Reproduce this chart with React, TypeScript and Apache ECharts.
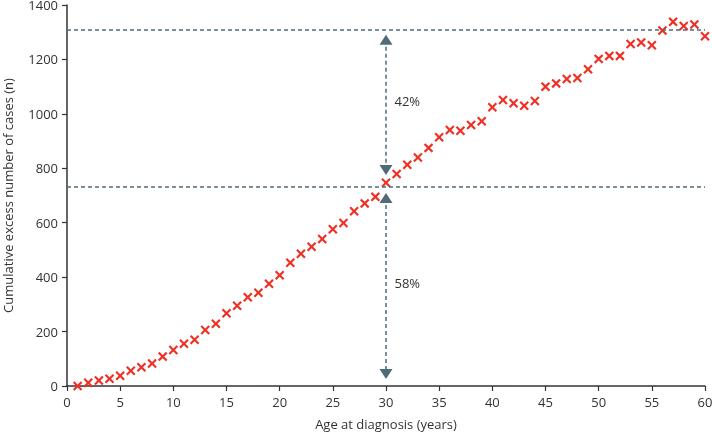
import React, { useEffect, useRef } from "react";
import * as echarts from "echarts";

const ages = [
  1, 2, 3, 4, 5, 6, 7, 8, 9, 10, 11, 12, 13, 14, 15, 16, 17, 18, 19, 20,
  21, 22, 23, 24, 25, 26, 27, 28, 29, 30, 31, 32, 33, 34, 35, 36, 37, 38, 39, 40,
  41, 42, 43, 44, 45, 46, 47, 48, 49, 50, 51, 52, 53, 54, 55, 56, 57, 58, 59, 60,
];
const excessCases = [
  0, 12, 20, 27, 38, 56, 69, 83, 108, 132, 155, 170, 206, 229, 267, 295, 326, 343, 376, 407,
  453, 486, 512, 540, 576, 599, 642, 671, 695, 747, 779, 813, 840, 875, 914, 941, 938, 959, 973, 1024,
  1051, 1039, 1030, 1047, 1100, 1112, 1128, 1132, 1164, 1202, 1213, 1213, 1257, 1262, 1252, 1306, 1338, 1323, 1328, 1285,
];
const referenceLevels = [1310, 733];
const splitAge = 30;
const upperArrow = [1272, 794];
const lowerArrow = [691, 44];
const shareLabels = ["42%", "58%"];
const shareLabelValues = [1047, 378];

const RED = "#ee3124";
const SLATE = "#4f6b76";
const TEXT = "#333333";
const FONT = "'Open Sans', 'Noto Sans', sans-serif";
const CROSS =
  "path://M0,1.6L1.6,0L5,3.4L8.4,0L10,1.6L6.6,5L10,8.4L8.4,10L5,6.6L1.6,10L0,8.4L3.4,5Z";

export default function App() {
  const ref = useRef<HTMLDivElement>(null);
  useEffect(() => {
    if (!ref.current) return;
    const chart = echarts.init(ref.current, undefined, { renderer: "svg" });
    const arrowEnd = (y: number) => ({
      coord: [splitAge, y],
      symbol: "triangle",
      symbolSize: [13, 10],
    });
    chart.setOption({
      animation: false,
      textStyle: { fontFamily: FONT },
      grid: {
        left: 67,
        right: 7,
        top: 5,
        bottom: 50,
        containLabel: false,
        outerBoundsMode: "none",
      },
      xAxis: {
        type: "value",
        min: 0,
        max: 60,
        interval: 5,
        name: "Age at diagnosis (years)",
        nameLocation: "middle",
        nameGap: 31,
        nameTextStyle: { color: TEXT, fontSize: 13, fontFamily: FONT },
        axisLine: { show: true, onZero: false, lineStyle: { color: TEXT, width: 1.5 } },
        axisTick: { show: true, length: 5, lineStyle: { color: TEXT, width: 1.2 } },
        axisLabel: {
          color: TEXT,
          fontSize: 13,
          margin: 9,
          fontFamily: FONT,
          formatter: (v: number) => String(v),
        },
        splitLine: { show: false },
      },
      yAxis: {
        type: "value",
        min: 0,
        max: 1400,
        interval: 200,
        name: "Cumulative excess number of cases (n)",
        nameLocation: "middle",
        nameGap: 53,
        nameTextStyle: { color: TEXT, fontSize: 13, fontFamily: FONT },
        axisLine: { show: true, lineStyle: { color: TEXT, width: 1.5 } },
        axisTick: { show: true, length: 5, lineStyle: { color: TEXT, width: 1.2 } },
        axisLabel: {
          color: TEXT,
          fontSize: 13,
          margin: 9,
          fontFamily: FONT,
          formatter: (v: number) => String(v),
        },
        splitLine: { show: false },
      },
      series: [
        {
          type: "scatter",
          data: ages.map((a, i) => [a, excessCases[i]]),
          symbol: CROSS,
          symbolSize: 9.5,
          itemStyle: { color: RED, opacity: 1 },
          z: 3,
          markLine: {
            silent: true,
            symbol: ["none", "none"],
            label: { show: false },
            lineStyle: { color: SLATE, type: [4, 3], width: 1.5 },
            data: [
              ...referenceLevels.map((v) => ({ yAxis: v })),
              [arrowEnd(upperArrow[0]), arrowEnd(upperArrow[1])],
              [arrowEnd(lowerArrow[0]), arrowEnd(lowerArrow[1])],
            ],
          },
          markPoint: {
            silent: true,
            symbol: "circle",
            symbolSize: 1,
            itemStyle: { color: "rgba(0,0,0,0)" },
            label: {
              show: true,
              position: "right",
              distance: 8,
              formatter: "{b}",
              color: TEXT,
              fontSize: 13,
              fontFamily: FONT,
            },
            data: shareLabels.map((s, i) => ({
              name: s,
              coord: [splitAge, shareLabelValues[i]],
            })),
          },
        },
      ],
    });
    return () => chart.dispose();
  }, []);
  return (
    <div
      ref={ref}
      style={{ position: "fixed", left: 0, top: 0, width: 712, height: 436 }}
    />
  );
}
